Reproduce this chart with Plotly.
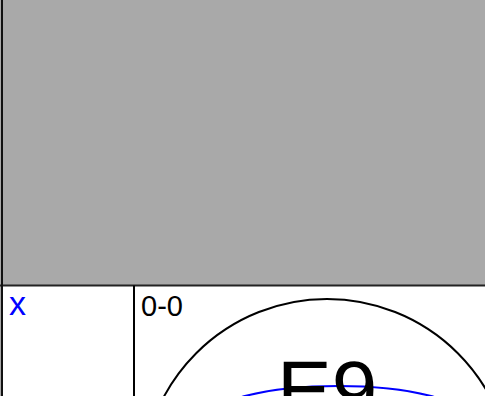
import plotly.graph_objects as go

# ---- content ----
cell_labels = ["x", "0-0"]
center_labels = ["E9"]

# ---- geometry (pixel space of the 485x396 view) ----
W, H = 485, 396
header_bottom = 285.5
divider_x = 134
label_pos = [(7, 303), (139, 305.5)]
label_sizes = [34, 29]
label_colors = ["#0000ff", "#000000"]
center_pos = (327, 389)
circle_c, circle_r = (327, 484), 185
ellipse_c, ellipse_r = (338, 419.5), (130, 33.5)

fig = go.Figure()
fig.add_trace(go.Scatter(x=[0, W], y=[0, H], mode="markers",
                         marker=dict(opacity=0), hoverinfo="skip", showlegend=False))

shapes = [
    dict(type="rect", x0=0, x1=W, y0=0, y1=header_bottom, fillcolor="#a9a9a9",
         line=dict(width=0), layer="below"),
    dict(type="rect", x0=0, x1=2, y0=header_bottom, y1=H, fillcolor="#a9a9a9",
         line=dict(width=0)),
    dict(type="line", x0=0, x1=W, y0=header_bottom, y1=header_bottom,
         line=dict(color="#222222", width=2)),
    dict(type="line", x0=2, x1=2, y0=0, y1=H, line=dict(color="#111111", width=2)),
    dict(type="line", x0=divider_x, x1=divider_x, y0=header_bottom, y1=H,
         line=dict(color="#000000", width=2)),
    dict(type="circle", x0=circle_c[0] - circle_r, x1=circle_c[0] + circle_r,
         y0=circle_c[1] - circle_r, y1=circle_c[1] + circle_r,
         line=dict(color="#000000", width=2)),
    dict(type="circle", x0=ellipse_c[0] - ellipse_r[0], x1=ellipse_c[0] + ellipse_r[0],
         y0=ellipse_c[1] - ellipse_r[1], y1=ellipse_c[1] + ellipse_r[1],
         line=dict(color="#0000ff", width=2)),
]

annotations = []
for txt, (x, y), s, c in zip(cell_labels, label_pos, label_sizes, label_colors):
    annotations.append(dict(x=x, y=y, text=txt, showarrow=False, xanchor="left",
                            yanchor="middle", font=dict(size=s, color=c,
                            family="Liberation Sans, Arial, sans-serif")))
annotations.append(dict(x=center_pos[0], y=center_pos[1], text=center_labels[0],
                        showarrow=False, xanchor="center", yanchor="middle",
                        font=dict(size=82, color="#000000",
                                  family="Liberation Sans, Arial, sans-serif")))

fig.update_layout(
    width=W, height=H, margin=dict(l=0, r=0, t=0, b=0),
    paper_bgcolor="white", plot_bgcolor="white",
    xaxis=dict(range=[0, W], visible=False, fixedrange=True),
    yaxis=dict(range=[H, 0], visible=False, fixedrange=True),
    shapes=shapes, annotations=annotations, showlegend=False,
)
fig.write_html("out.html", config={"displayModeBar": False},
               post_script="document.body.style.margin='0';document.body.style.overflow='hidden';")
